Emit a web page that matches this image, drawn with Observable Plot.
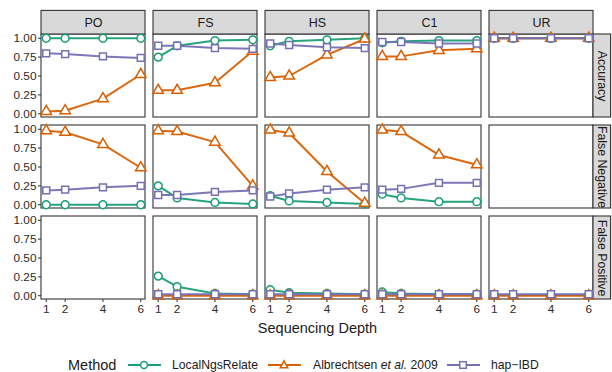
<!DOCTYPE html>
<html>
<head>
<meta charset="utf-8">
<script src="https://cdn.jsdelivr.net/npm/d3@7"></script>
<script src="https://cdn.jsdelivr.net/npm/@observablehq/plot@0.6"></script>
<style>
  html, body { margin: 0; padding: 0; background: #fff; }
  body { width: 612px; height: 372px; overflow: hidden; font-family: "Liberation Sans", Arial, sans-serif; }
  #legend { position: relative; height: 27px; width: 612px; }
  #legend .it { position: absolute; top: 6px; height: 27px; display: flex; align-items: center; color: #1a1a1a; white-space: nowrap; }
</style>
</head>
<body>
<div id="chart"></div>
<div id="legend"></div>
<script>
// ---- data ----
const depths = [1, 2, 4, 6];
const relTypes = ["PO", "FS", "HS", "C1", "UR"];
const metrics = ["Accuracy", "False Negative", "False Positive"];
const methods = ["LocalNgsRelate", "Albrechtsen et al. 2009", "hap-IBD"];
const methodColors = ["#1b9e77", "#d95f02", "#7570b3"];
const methodSymbols = ["circle", "triangle", "square"];
const yTicks = [0, 0.25, 0.5, 0.75, 1];

// values per relationship type (PO, FS, HS, C1, UR), each over depths 1,2,4,6
const accLocal = [[1.00, 1.00, 1.00, 1.00], [0.75, 0.90, 0.97, 0.98], [0.90, 0.96, 0.98, 1.00], [0.94, 0.96, 0.97, 0.97], [1.00, 1.00, 1.00, 1.00]];
const accAlbrecht = [[0.03, 0.04, 0.20, 0.52], [0.31, 0.31, 0.41, 0.83], [0.48, 0.50, 0.78, 0.99], [0.76, 0.76, 0.84, 0.86], [1.00, 1.00, 1.00, 1.00]];
const accHapIBD = [[0.80, 0.79, 0.76, 0.74], [0.90, 0.90, 0.87, 0.86], [0.93, 0.91, 0.88, 0.87], [0.95, 0.95, 0.93, 0.93], [1.00, 1.00, 1.00, 1.00]];

const fnLocal = [[0.00, 0.00, 0.00, 0.00], [0.25, 0.09, 0.03, 0.01], [0.12, 0.05, 0.03, 0.01], [0.14, 0.09, 0.04, 0.04], null];
const fnAlbrecht = [[0.98, 0.96, 0.80, 0.49], [0.98, 0.97, 0.83, 0.25], [0.99, 0.95, 0.44, 0.02], [0.99, 0.97, 0.66, 0.53], null];
const fnHapIBD = [[0.19, 0.20, 0.23, 0.25], [0.13, 0.13, 0.17, 0.19], [0.11, 0.15, 0.20, 0.23], [0.20, 0.21, 0.29, 0.29], null];

const fpLocal = [null, [0.26, 0.12, 0.03, 0.02], [0.08, 0.04, 0.03, 0.02], [0.05, 0.03, 0.02, 0.02], [0.01, 0.01, 0.01, 0.01]];
const fpAlbrecht = [null, [0.00, 0.00, 0.00, 0.00], [0.00, 0.00, 0.00, 0.00], [0.00, 0.00, 0.00, 0.00], [0.00, 0.00, 0.00, 0.00]];
const fpHapIBD = [null, [0.02, 0.02, 0.02, 0.02], [0.02, 0.02, 0.02, 0.02], [0.02, 0.02, 0.02, 0.02], [0.02, 0.02, 0.02, 0.02]];

// ---- build long table ----
const series = [
  ["Accuracy", [accLocal, accAlbrecht, accHapIBD]],
  ["False Negative", [fnLocal, fnAlbrecht, fnHapIBD]],
  ["False Positive", [fpLocal, fpAlbrecht, fpHapIBD]]
];
const rows = [];
for (const [metric, perMethod] of series) {
  perMethod.forEach((arr, mi) => {
    arr.forEach((vals, ti) => {
      if (!vals) return;
      vals.forEach((v, di) => rows.push({metric, type: relTypes[ti], method: methods[mi], depth: depths[di], value: v}));
    });
  });
}
const cells = [];
for (const m of metrics) for (const t of relTypes) cells.push({metric: m, type: t});
const topStrips = relTypes.map(t => ({type: t, metric: metrics[0]}));
const rightStrips = metrics.map(m => ({type: relTypes[relTypes.length - 1], metric: m}));
const xLabel = [{type: "HS", metric: "False Positive", label: "Sequencing Depth"}];

const X0 = 0.75, X1 = 6.25, Y0 = -0.05, Y1 = 1.05;

const chart = Plot.plot({
  width: 612,
  height: 345,
  marginTop: 34,
  marginRight: 19,
  marginBottom: 46,
  marginLeft: 41,
  style: {fontFamily: "Liberation Sans, Arial, sans-serif", fontSize: "11.8px", color: "#2b2b2b", background: "#fff"},
  fx: {domain: relTypes, axis: null, paddingInner: 8 / 112, paddingOuter: 0},
  fy: {domain: metrics, axis: null, paddingInner: 8 / 91, paddingOuter: 0},
  x: {domain: [X0, X1], ticks: depths, tickFormat: d => d, label: null, tickSize: 3, tickPadding: 2},
  y: {domain: [Y0, Y1], ticks: yTicks, tickFormat: d3.format(".2f"), label: null, tickSize: 3, tickPadding: 2},
  color: {domain: methods, range: methodColors},
  symbol: {domain: methods, range: methodSymbols},
  marks: [
    // panel background + border
    Plot.rect(cells, {fx: "type", fy: "metric", x1: () => X0, x2: () => X1, y1: () => Y0, y2: () => Y1, fill: "white", stroke: "#333", strokeWidth: 1.1}),
    // strips
    Plot.rect(topStrips, {fx: "type", fy: "metric", x1: () => X0, x2: () => X1, y1: () => Y1, y2: () => Y1, insetTop: -23.6, fill: "#d9d9d9", stroke: "#333", strokeWidth: 1.1}),
    Plot.text(topStrips, {fx: "type", fy: "metric", x: () => (X0 + X1) / 2, y: () => Y1, dy: -11.8, text: "type", fontSize: 12.5, fill: "#1a1a1a"}),
    Plot.rect(rightStrips, {fx: "type", fy: "metric", x1: () => X1, x2: () => X1, y1: () => Y0, y2: () => Y1, insetRight: -17.6, fill: "#d9d9d9", stroke: "#333", strokeWidth: 1.1}),
    Plot.text(rightStrips, {fx: "type", fy: "metric", x: () => X1, y: () => (Y0 + Y1) / 2, dx: 8.8, rotate: 90, text: "metric", fontSize: 12.3, fill: "#1a1a1a"}),
    // data
    Plot.line(rows, {fx: "type", fy: "metric", x: "depth", y: "value", z: "method", stroke: "method", strokeWidth: 2, strokeOpacity: 0.95}),
    Plot.dot(rows, {fx: "type", fy: "metric", x: "depth", y: "value", symbol: "method", stroke: "method", fill: "white", r: 3.9, strokeWidth: 1.5}),
    // axis title
    Plot.text(xLabel, {fx: "type", fy: "metric", x: () => (X0 + X1) / 2, y: () => Y0, dy: 28.5, text: "label", fontSize: 14.5, fill: "#1a1a1a"})
  ]
});
document.getElementById("chart").appendChild(chart);

// ---- legend ----
const legend = document.getElementById("legend");
function addItem(left, html, size) {
  const d = document.createElement("div");
  d.className = "it";
  d.style.left = left + "px";
  d.style.fontSize = size + "px";
  d.innerHTML = html;
  legend.appendChild(d);
}
function swatch(color, symbol) {
  let shape;
  if (symbol === "circle") shape = `<circle cx="16" cy="7" r="3.4" fill="white" stroke="${color}" stroke-width="1.5"/>`;
  else if (symbol === "triangle") shape = `<path d="M16,2.8 L19.8,9.8 L12.2,9.8 Z" fill="white" stroke="${color}" stroke-width="1.5"/>`;
  else shape = `<rect x="12.7" y="3.7" width="6.6" height="6.6" fill="white" stroke="${color}" stroke-width="1.5"/>`;
  return `<svg width="33" height="14" viewBox="0 0 33 14"><line x1="0" y1="7" x2="33" y2="7" stroke="${color}" stroke-width="2"/>${shape}</svg>`;
}
const legendLabels = ["<span>LocalNgsRelate</span>", "<span>Albrechtsen <i>et al.</i> 2009</span>", "<span>hap\u2212IBD</span>"];
addItem(68, "<span>Method</span>", 14.5);
const swX = [128, 268, 447];
const lbX = [172, 313, 491];
methods.forEach((m, i) => {
  addItem(swX[i], swatch(methodColors[i], methodSymbols[i]), 11);
  addItem(lbX[i], legendLabels[i], 12.2);
});
</script>
</body>
</html>
